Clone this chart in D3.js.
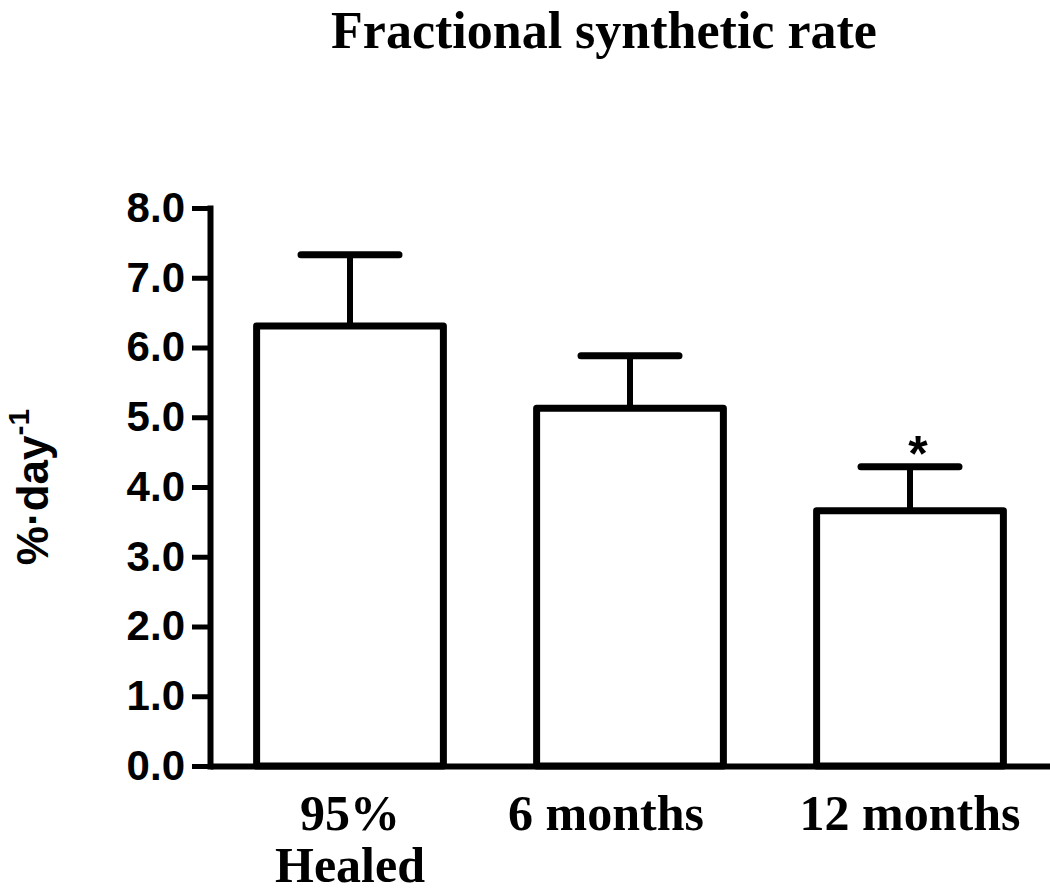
<!DOCTYPE html>
<html>
<head>
<meta charset="utf-8">
<script src="https://cdn.jsdelivr.net/npm/d3@7"></script>
<style>
  body { margin: 0; background: #fff; }
  svg { display: block; }
</style>
</head>
<body>
<svg id="chart" width="1050" height="892"></svg>
<script>
// groups, means and SEM
var categories = ['95%\nHealed', '6 months', '12 months'];
var means = [6.31, 5.13, 3.66];
var sems = [1.02, 0.75, 0.63];
var marks = ['', '', '*'];
var yTicks = [0, 1, 2, 3, 4, 5, 6, 7, 8];

var data = categories.map((c, i) => ({ cat: c, mean: means[i], sem: sems[i], mark: marks[i] }));

var svg = d3.select('#chart');

var x = d3.scaleBand()
  .domain(categories)
  .range([210, 1050])
  .paddingInner(0.333)
  .paddingOuter(0.1665);

var y = d3.scaleLinear()
  .domain([0, 8])
  .range([766, 208]);

// title
svg.append('text')
  .attr('x', 604)
  .attr('y', 48)
  .attr('text-anchor', 'middle')
  .style('font-family', '"Liberation Serif", "Times New Roman", serif')
  .style('font-weight', 'bold')
  .style('font-size', '52px')
  .text('Fractional synthetic rate');

// y label
svg.append('text')
  .attr('transform', 'translate(48,487) rotate(-90)')
  .attr('text-anchor', 'middle')
  .style('font-family', '"Liberation Sans", Arial, sans-serif')
  .style('font-weight', 'bold')
  .style('font-size', '44px')
  .call(function(t) {
    t.append('tspan').text('%\u00B7day');
    t.append('tspan').attr('dy', -19).style('font-size', '30px').text('-1');
  });

var bars = svg.append('g');

// error bars: stem from mean up to mean + sem, with a cap
bars.selectAll('line.stem')
  .data(data)
  .enter().append('line')
  .attr('class', 'stem')
  .attr('x1', (d) => x(d.cat) + x.bandwidth() / 2)
  .attr('x2', (d) => x(d.cat) + x.bandwidth() / 2)
  .attr('y1', (d) => y(d.mean))
  .attr('y2', (d) => y(d.mean + d.sem))
  .attr('stroke', '#000')
  .attr('stroke-width', 6);

bars.selectAll('line.cap')
  .data(data)
  .enter().append('line')
  .attr('class', 'cap')
  .attr('x1', (d) => x(d.cat) + x.bandwidth() / 2 - 49)
  .attr('x2', (d) => x(d.cat) + x.bandwidth() / 2 + 49)
  .attr('y1', (d) => y(d.mean + d.sem))
  .attr('y2', (d) => y(d.mean + d.sem))
  .attr('stroke', '#000')
  .attr('stroke-width', 7)
  .attr('stroke-linecap', 'round');

bars.selectAll('rect')
  .data(data)
  .enter().append('rect')
  .attr('x', (d) => x(d.cat))
  .attr('y', (d) => y(d.mean))
  .attr('width', x.bandwidth())
  .attr('height', (d) => y(0) - y(d.mean))
  .attr('fill', '#fff')
  .attr('stroke', '#000')
  .attr('stroke-width', 7)
  .attr('stroke-linejoin', 'round');

// significance star
bars.selectAll('text.mark')
  .data(data.filter((d) => d.mark))
  .enter().append('text')
  .attr('class', 'mark')
  .attr('x', (d) => x(d.cat) + x.bandwidth() / 2 + 8)
  .attr('y', (d) => y(d.mean + d.sem) + 4)
  .attr('text-anchor', 'middle')
  .style('font-family', '"Liberation Sans", Arial, sans-serif')
  .style('font-weight', 'bold')
  .style('font-size', '50px')
  .text((d) => d.mark);

// y axis
var yAxis = svg.append('g')
  .attr('transform', 'translate(210,0)')
  .call(d3.axisLeft(y)
    .tickValues(yTicks)
    .tickFormat(d3.format('.1f'))
    .tickSize(18)
    .tickSizeOuter(0)
    .tickPadding(7));

yAxis.select('.domain').attr('stroke-width', 6).attr('stroke-linecap', 'square');
yAxis.selectAll('.tick line').attr('stroke-width', 5);
yAxis.selectAll('.tick text')
  .attr('fill', '#000')
  .style('font-family', '"Liberation Sans", Arial, sans-serif')
  .style('font-weight', 'bold')
  .style('font-size', '42px');

// x axis
var xAxis = svg.append('g')
  .attr('transform', 'translate(0,766)')
  .call(d3.axisBottom(x).tickSize(0).tickSizeOuter(0).tickFormat(''));

xAxis.select('.domain').attr('stroke-width', 6);

xAxis.selectAll('.tick').each(function(d, i) {
  var lines = d.split('\n');
  var t = d3.select(this).append('text')
    .attr('fill', '#000')
    .attr('text-anchor', 'middle')
    .style('font-family', '"Liberation Serif", "Times New Roman", serif')
    .style('font-weight', 'bold')
    .style('font-size', '50px');
  lines.forEach(function(line, j) {
    t.append('tspan')
      .attr('x', i === 1 ? -24 : 0)
      .attr('y', 64 + j * 52)
      .text(line);
  });
});
</script>
</body>
</html>
